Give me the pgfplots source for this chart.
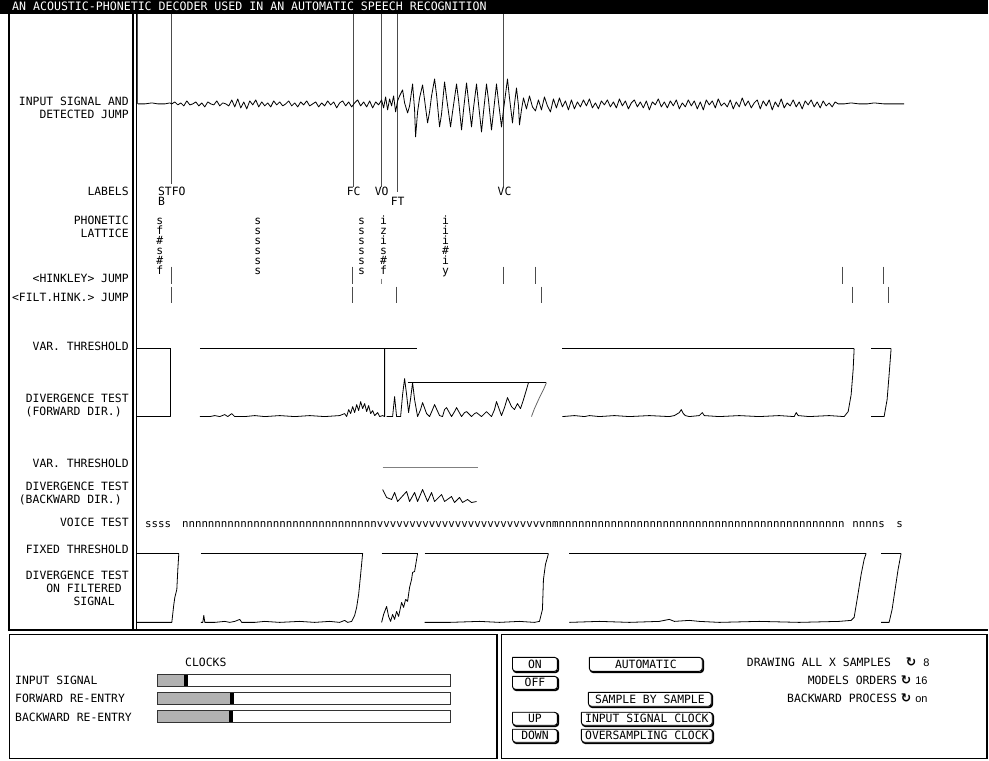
\documentclass[border=0pt]{standalone}
\usepackage{pgfplots}
\pgfplotsset{compat=1.18}
\usepackage{fontspec}
\newfontfamily\ui{DejaVu Sans Mono}
\newfontfamily\uisans{Liberation Sans}
\newfontfamily\sym{DejaVu Sans}
\newcommand\uif{\ui\fontsize{11.4}{12}\selectfont}
\newcommand\vtf{\ui\fontsize{10.8}{12}\selectfont}
\begin{document}
\begin{tikzpicture}[
 lbl/.style={anchor=base east,font=\uif,inner sep=0pt},
 txt/.style={anchor=base west,font=\uif,inner sep=0pt},
 ch/.style={anchor=base,font=\uif,inner sep=0pt},
 sig/.style={black,line width=0.8pt,line join=round},
 jmp/.style={black!70,line width=1pt},
 frm/.style={black,line width=1.5pt},
 btnsh/.style={black,line width=1.6pt,rounded corners=3pt},
 btn/.style={black,fill=white,line width=0.9pt,rounded corners=3pt},
]
\begin{axis}[width=989pt,height=761pt,scale only axis,xmin=0,xmax=989,ymin=0,ymax=761,
  y dir=reverse,hide axis,clip=false]
% background and title bar
\addplot[fill=white,draw=none] coordinates {(0,0)(989,0)(989,761)(0,761)};
\addplot[fill=black,draw=none] coordinates {(0,0)(989,0)(989,14)(0,14)};
\node[anchor=base west,font=\ui\fontsize{11.6}{12}\selectfont,inner sep=0pt,text=white] at (axis cs:12,11) {AN ACOUSTIC-PHONETIC DECODER USED IN AN AUTOMATIC SPEECH RECOGNITION};
% frames
\addplot[black,line width=2pt] coordinates {(9,14)(9,632)};
\addplot[black,line width=2pt] coordinates {(133.5,14)(133.5,632)};
\addplot[black,line width=1pt] coordinates {(136.5,14)(136.5,632)};
\addplot[black,line width=2pt] coordinates {(8,631)(989,631)};
\addplot[frm] coordinates {(9.5,635)(497.5,635)(497.5,759.5)(9.5,759.5)(9.5,635)};
\addplot[frm] coordinates {(502,635)(988,635)(988,759.5)(502,759.5)(502,635)};
% left labels
\node[lbl] at (axis cs:129,106) {INPUT SIGNAL AND};
\node[lbl] at (axis cs:129,119) {DETECTED JUMP};
\node[lbl] at (axis cs:129,196) {LABELS};
\node[lbl] at (axis cs:129,225) {PHONETIC};
\node[lbl] at (axis cs:129,238) {LATTICE};
\node[lbl] at (axis cs:129,283) {<HINKLEY> JUMP};
\node[lbl] at (axis cs:129,302) {<FILT.HINK.> JUMP};
\node[lbl] at (axis cs:129,351) {VAR. THRESHOLD};
\node[lbl] at (axis cs:129,403) {DIVERGENCE TEST};
\node[lbl] at (axis cs:122,416) {(FORWARD DIR.)};
\node[lbl] at (axis cs:129,468) {VAR. THRESHOLD};
\node[lbl] at (axis cs:129,491) {DIVERGENCE TEST};
\node[lbl] at (axis cs:122,504) {(BACKWARD DIR.)};
\node[lbl] at (axis cs:129,527) {VOICE TEST};
\node[lbl] at (axis cs:129,554) {FIXED THRESHOLD};
\node[lbl] at (axis cs:129,580) {DIVERGENCE TEST};
\node[lbl] at (axis cs:122,593) {ON FILTERED};
\node[lbl] at (axis cs:115,606) {SIGNAL};
% detected jump lines
\addplot[jmp] coordinates {(138,14)(138,104)};
\addplot[jmp] coordinates {(172,14)(172,184)};
\addplot[jmp] coordinates {(354,14)(354,187)};
\addplot[jmp] coordinates {(382,14)(382,187)};
\addplot[jmp] coordinates {(398,14)(398,192)};
\addplot[jmp] coordinates {(504,14)(504,187)};
% input signal
\addplot[sig] coordinates {
(138,104)(145,104)(152,103)(158,104)(165,104)(170,103)
(172,104)(175,102)(178,105)(181,103)(184,106)(187,101)(190,105)(193,104)(196,102)(199,106)
(202,103)(205,107)(208,102)(211,104)(214,105)(217,101)(220,106)(223,103)(226,104)(229,106)
(232,100)(235,107)(238,99)(241,108)(244,102)(247,109)(250,101)(253,105)(256,100)(259,107)
(262,102)(265,106)(268,103)(271,107)(274,101)(277,105)(280,102)(283,106)(286,104)(289,101)
(292,106)(295,103)(298,107)(301,102)(304,105)(307,101)(310,106)(313,104)(316,102)(319,107)
(322,103)(325,106)(328,101)(331,105)(334,102)(337,108)(340,103)(343,101)(346,106)(349,102)
(352,107)(355,103)(358,100)(361,106)(364,102)(367,107)(370,101)(373,108)(376,102)(379,105)
(382,100)(384,108)(386,97)(388,110)(390,99)(392,106)(394,96)(396,112)(398,101)(400,96)
(403,90)(405,103)(408,113)(410,106)(413,84)(415,110)(416,137)(418,112)(420,98)(423,85)
(425,100)(428,123)(430,112)(432,96)(435,79)(437,95)(440,127)(442,114)(445,82)(447,98)
(451,127)(453,112)(457,84)(459,100)(462,130)(464,110)(467,83)(469,101)(472,127)(474,108)
(477,84)(479,104)(482,132)(484,112)(487,84)(489,100)(492,130)(494,112)(497,84)(499,102)
(502,127)(504,110)(508,79)(510,98)(513,123)(515,104)(517,88)(519,106)(520,125)(522,110)
(524,98)(527,109)(530,96)(533,107)(536,111)(539,100)(542,110)(545,97)(548,106)(551,112)
(554,99)(557,108)(560,98)(563,107)(566,101)(569,110)(572,100)(575,109)(578,102)
(581,107)(584,100)(587,106)(590,99)(593,108)(596,103)(599,109)(602,101)(605,105)(608,100)
(611,107)(614,102)(617,108)(620,99)(623,106)(626,101)(629,109)(632,103)(635,100)(638,107)
(641,102)(644,108)(647,101)(650,110)(653,102)(656,105)(659,99)(662,107)(665,102)(668,108)
(671,101)(674,106)(677,100)(680,109)(683,103)(686,107)(689,100)(692,106)(695,101)(698,109)
(701,102)(704,110)(707,100)(710,105)(713,101)(716,108)(719,99)(722,106)(725,103)(728,107)
(731,100)(734,109)(737,102)(740,107)(743,98)(746,106)(749,101)(752,108)(755,103)(758,100)
(761,109)(764,101)(767,106)(770,100)(773,110)(776,102)(779,107)(782,99)(785,108)(788,103)
(791,106)(794,100)(797,107)(800,102)(803,109)(806,101)(809,105)(812,100)(815,107)(818,102)
(821,108)(824,101)(827,106)(830,103)(833,107)(836,102)
(839,104)(845,104)(852,103)(860,104)(868,104)(875,103)(885,104)(895,104)(905,104)};
% labels row
\node[txt] at (axis cs:158,196) {STFO};
\node[txt] at (axis cs:158,206) {B};
\node[txt] at (axis cs:347,196) {FC};
\node[txt] at (axis cs:375,196) {VO};
\node[txt] at (axis cs:391,206) {FT};
\node[txt] at (axis cs:498,196) {VC};
% phonetic lattice
\node[ch] at (axis cs:160,225) {s};
\node[ch] at (axis cs:160,235) {f};
\node[ch] at (axis cs:160,245) {\#};
\node[ch] at (axis cs:160,255) {s};
\node[ch] at (axis cs:160,265) {\#};
\node[ch] at (axis cs:160,275) {f};
\node[ch] at (axis cs:258,225) {s};
\node[ch] at (axis cs:258,235) {s};
\node[ch] at (axis cs:258,245) {s};
\node[ch] at (axis cs:258,255) {s};
\node[ch] at (axis cs:258,265) {s};
\node[ch] at (axis cs:258,275) {s};
\node[ch] at (axis cs:362,225) {s};
\node[ch] at (axis cs:362,235) {s};
\node[ch] at (axis cs:362,245) {s};
\node[ch] at (axis cs:362,255) {s};
\node[ch] at (axis cs:362,265) {s};
\node[ch] at (axis cs:362,275) {s};
\node[ch] at (axis cs:384,225) {i};
\node[ch] at (axis cs:384,235) {z};
\node[ch] at (axis cs:384,245) {i};
\node[ch] at (axis cs:384,255) {s};
\node[ch] at (axis cs:384,265) {\#};
\node[ch] at (axis cs:384,275) {f};
\node[ch] at (axis cs:446,225) {i};
\node[ch] at (axis cs:446,235) {i};
\node[ch] at (axis cs:446,245) {i};
\node[ch] at (axis cs:446,255) {\#};
\node[ch] at (axis cs:446,265) {i};
\node[ch] at (axis cs:446,275) {y};
% hinkley jumps
\addplot[jmp] coordinates {(172,267)(172,284)};
\addplot[jmp] coordinates {(353,267)(353,284)};
\addplot[jmp,black!50] coordinates {(382,279)(382,284)};
\addplot[jmp] coordinates {(504,267)(504,284)};
\addplot[jmp] coordinates {(536,267)(536,284)};
\addplot[jmp] coordinates {(843,267)(843,284)};
\addplot[jmp] coordinates {(884,267)(884,284)};
% filtered hinkley jumps
\addplot[jmp] coordinates {(172,287)(172,303)};
\addplot[jmp] coordinates {(353,287)(353,303)};
\addplot[jmp] coordinates {(397,287)(397,303)};
\addplot[jmp] coordinates {(542,287)(542,303)};
\addplot[jmp] coordinates {(853,287)(853,303)};
\addplot[jmp] coordinates {(889,287)(889,303)};
% forward thresholds
\addplot[sig] coordinates {(137,349)(171,349)};
\addplot[sig] coordinates {(200,349)(417,349)};
\addplot[sig] coordinates {(408,383)(547,383)};
\addplot[sig] coordinates {(563,349)(855,349)};
\addplot[sig] coordinates {(872,349)(892,349)};
% forward divergence
\addplot[sig] coordinates {(137,417)(171,417)(171,349)};
\addplot[sig] coordinates {(200,417)(210,417)(215,416)(220,417)(225,415)(228,417)(232,414)(235,417)(245,417)(255,416)(265,417)(280,416)(295,417)(310,416)(325,417)(340,416)(345,414)(347,417)(349,410)(351,414)(353,407)(355,413)(357,405)(359,411)(361,402)(363,409)(365,404)(367,412)(369,406)(371,414)(373,411)(375,416)(378,413)(380,417)(383,416)(385,417)(385,349)};
\addplot[sig] coordinates {(387,417)(393,417)(395,397)(397,417)(401,417)(403,395)(405,379)(407,395)(409,413)(411,399)(413,383)(415,400)(418,417)(421,410)(423,403)(427,414)(430,417)(433,410)(435,405)(440,416)(443,417)(445,410)(447,408)(452,417)(455,412)(457,408)(462,417)(465,413)(467,412)(472,417)(475,414)(477,413)(482,417)(485,414)(487,412)(492,417)(495,410)(497,402)(502,416)(505,408)(508,398)(512,407)(515,410)(518,404)(521,409)(524,400)(527,390)(529,383)};
\addplot[sig,black!60] coordinates {(532,417)(535,409)(540,398)(544,390)(547,383)};
\addplot[sig] coordinates {(563,417)(575,416)(585,417)(590,416)(600,417)(615,416)(630,417)(650,416)(670,417)(675,416)(680,413)(682,410)(684,414)(686,416)(690,417)(700,416)(703,413)(705,416)(720,417)(740,416)(760,417)(780,416)(795,417)(797,413)(799,416)(810,417)(830,416)(845,417)(849,412)(852,395)(854,370)(855,349)};
\addplot[sig] coordinates {(872,417)(885,417)(888,400)(890,375)(892,349)};
% backward
\addplot[black!50,line width=1pt] coordinates {(383,468)(478,468)};
\addplot[sig] coordinates {(383,490)(387,498)(392,500)(395,493)(398,502)(407,492)(410,502)(415,493)(418,502)(423,490)(428,502)(432,493)(435,502)(442,495)(445,502)(452,497)(455,503)(460,498)(463,503)(468,500)(472,503)(477,502)};
% voice test
\node[anchor=base west,font=\vtf,inner sep=0pt] at (axis cs:145,528) {ssss};
\node[anchor=base west,font=\vtf,inner sep=0pt] at (axis cs:182,528) {nnnnnnnnnnnnnnnnnnnnnnnnnnnnnnvvvvvvvvvvvvvvvvvvvvvvvvvvnmnnnnnnnnnnnnnnnnnnnnnnnnnnnnnnnnnnnnnnnnnnnn};
\node[anchor=base west,font=\vtf,inner sep=0pt] at (axis cs:853,528) {nnnns};
\node[anchor=base west,font=\vtf,inner sep=0pt] at (axis cs:897,528) {s};
% filtered thresholds
\addplot[sig] coordinates {(137,554)(179,554)};
\addplot[sig] coordinates {(201,554)(363,554)};
\addplot[sig] coordinates {(382,554)(418,554)};
\addplot[sig] coordinates {(425,554)(549,554)};
\addplot[sig] coordinates {(570,554)(867,554)};
\addplot[sig] coordinates {(882,554)(902,554)};
% filtered divergence
\addplot[sig] coordinates {(137,623)(172,623)(174,605)(175,598)(177,590)(178,570)(179,554)};
\addplot[sig] coordinates {(201,623)(203,623)(204,616)(205,623)(215,623)(225,622)(230,623)(235,622)(240,620)(242,623)(255,623)(265,622)(280,623)(300,622)(315,623)(330,622)(340,623)(345,621)(348,623)(352,622)(355,616)(357,608)(359,595)(361,575)(363,554)};
\addplot[sig] coordinates {(382,623)(384,615)(387,607)(389,617)(391,622)(393,615)(395,620)(397,612)(399,617)(402,603)(404,608)(406,600)(408,602)(410,588)(412,580)(413,573)(415,572)(417,560)(418,554)};
\addplot[sig] coordinates {(425,623)(450,623)(480,622)(500,623)(520,622)(535,623)(540,622)(543,610)(544,580)(546,565)(548,558)(549,554)};
\addplot[sig] coordinates {(570,623)(600,622)(630,623)(660,622)(670,620)(675,622)(690,621)(700,622)(720,623)(760,622)(800,623)(840,622)(852,621)(855,618)(858,600)(862,575)(865,560)(867,554)};
\addplot[sig] coordinates {(882,623)(890,623)(893,610)(896,590)(899,570)(902,554)};
% clocks panel
\node[anchor=base,font=\uif,inner sep=0pt] at (axis cs:206,667) {CLOCKS};
\node[txt] at (axis cs:15,685) {INPUT SIGNAL};
\node[txt] at (axis cs:15,703) {FORWARD RE-ENTRY};
\node[txt] at (axis cs:15,722) {BACKWARD RE-ENTRY};
\addplot[fill=gray!60,draw=none] coordinates {(158,675)(184,675)(184,687)(158,687)};
\addplot[fill=black,draw=none] coordinates {(184,675)(188,675)(188,687)(184,687)};
\addplot[black!80,line width=0.8pt] coordinates {(158,675)(451,675)(451,687)(158,687)(158,675)};
\addplot[fill=gray!60,draw=none] coordinates {(158,693)(230,693)(230,705)(158,705)};
\addplot[fill=black,draw=none] coordinates {(230,693)(234,693)(234,705)(230,705)};
\addplot[black!80,line width=0.8pt] coordinates {(158,693)(451,693)(451,705)(158,705)(158,693)};
\addplot[fill=gray!60,draw=none] coordinates {(158,711)(229,711)(229,723)(158,723)};
\addplot[fill=black,draw=none] coordinates {(229,711)(233,711)(233,723)(229,723)};
\addplot[black!80,line width=0.8pt] coordinates {(158,711)(451,711)(451,723)(158,723)(158,711)};
% buttons
\addplot[btnsh] coordinates {(514,659)(559,659)(559,673)(514,673)(514,659)};
\addplot[btn] coordinates {(513,658)(558,658)(558,672)(513,672)(513,658)};
\node[font=\uif,inner sep=0pt] at (axis cs:535.5,665) {ON};
\addplot[btnsh] coordinates {(514,678)(559,678)(559,691)(514,691)(514,678)};
\addplot[btn] coordinates {(513,677)(558,677)(558,690)(513,690)(513,677)};
\node[font=\uif,inner sep=0pt] at (axis cs:535.5,683.5) {OFF};
\addplot[btnsh] coordinates {(514,714)(559,714)(559,727)(514,727)(514,714)};
\addplot[btn] coordinates {(513,713)(558,713)(558,726)(513,726)(513,713)};
\node[font=\uif,inner sep=0pt] at (axis cs:535.5,719.5) {UP};
\addplot[btnsh] coordinates {(514,731)(559,731)(559,744)(514,744)(514,731)};
\addplot[btn] coordinates {(513,730)(558,730)(558,743)(513,743)(513,730)};
\node[font=\uif,inner sep=0pt] at (axis cs:535.5,736.5) {DOWN};
\addplot[btnsh] coordinates {(591,659)(704,659)(704,673)(591,673)(591,659)};
\addplot[btn] coordinates {(590,658)(703,658)(703,672)(590,672)(590,658)};
\node[font=\uif,inner sep=0pt] at (axis cs:646.5,665) {AUTOMATIC};
\addplot[btnsh] coordinates {(590,694)(713,694)(713,708)(590,708)(590,694)};
\addplot[btn] coordinates {(589,693)(712,693)(712,707)(589,707)(589,693)};
\node[font=\uif,inner sep=0pt] at (axis cs:650.5,700) {SAMPLE BY SAMPLE};
\addplot[btnsh] coordinates {(583,714)(714,714)(714,727)(583,727)(583,714)};
\addplot[btn] coordinates {(582,713)(713,713)(713,726)(582,726)(582,713)};
\node[font=\uif,inner sep=0pt] at (axis cs:647.5,719.5) {INPUT SIGNAL CLOCK};
\addplot[btnsh] coordinates {(583,731)(714,731)(714,744)(583,744)(583,731)};
\addplot[btn] coordinates {(582,730)(713,730)(713,743)(582,743)(582,730)};
\node[font=\uif,inner sep=0pt] at (axis cs:647.5,736.5) {OVERSAMPLING CLOCK};
% settings
\node[lbl] at (axis cs:892,667) {DRAWING ALL X SAMPLES};
\node[lbl] at (axis cs:898,685) {MODELS ORDERS};
\node[lbl] at (axis cs:898,703) {BACKWARD PROCESS};
\node[anchor=base,font=\sym\bfseries\fontsize{12.5}{12}\selectfont,inner sep=0pt] at (axis cs:912,667) {↻};
\node[anchor=base,font=\sym\bfseries\fontsize{12.5}{12}\selectfont,inner sep=0pt] at (axis cs:907,685) {↻};
\node[anchor=base,font=\sym\bfseries\fontsize{12.5}{12}\selectfont,inner sep=0pt] at (axis cs:907,703) {↻};
\node[anchor=base west,font=\uisans\fontsize{11}{12}\selectfont,inner sep=0pt] at (axis cs:924,667) {8};
\node[anchor=base west,font=\uisans\fontsize{11}{12}\selectfont,inner sep=0pt] at (axis cs:916,685) {16};
\node[anchor=base west,font=\uisans\fontsize{11}{12}\selectfont,inner sep=0pt] at (axis cs:916,703) {on};
\end{axis}
\end{tikzpicture}
\end{document}
